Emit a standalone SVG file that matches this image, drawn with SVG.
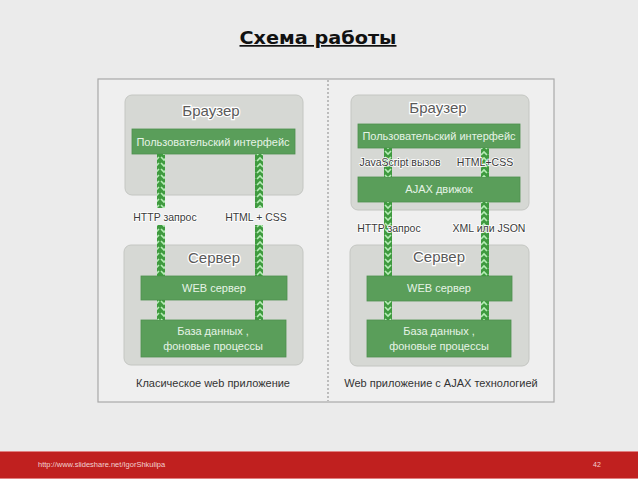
<svg xmlns="http://www.w3.org/2000/svg" width="638" height="479" viewBox="0 0 638 479">
<defs>
<style>
.t{font-family:"Liberation Sans",Arial,sans-serif;}
.gbox{fill:#d6d8d4;stroke:#c4c6c2;stroke-width:1;}
.green{fill:#5a9e5a;stroke:#4e8f4e;stroke-width:0.8;}
.gt{font-family:"Liberation Sans",Arial,sans-serif;font-size:11px;fill:#e6f3e6;text-anchor:middle;}
.hd{font-family:"Liberation Sans",Arial,sans-serif;font-size:15px;fill:#5a5a5a;text-anchor:middle;stroke:#ffffff;stroke-width:2.5;paint-order:stroke;}
.lb{font-family:"Liberation Sans",Arial,sans-serif;font-size:10.5px;fill:#3a3a3a;text-anchor:middle;stroke:#ffffff;stroke-width:1.6;paint-order:stroke;}
.cap{font-family:"Liberation Sans",Arial,sans-serif;font-size:11px;fill:#333333;text-anchor:middle;}
</style>
<pattern id="down" width="8" height="6" patternUnits="userSpaceOnUse">
<rect width="8" height="6" fill="#3f9a3f"/>
<path d="M1,1 L4,4 L7,1" fill="none" stroke="#b5ecb5" stroke-width="1.6"/>
</pattern>
<pattern id="up" width="8" height="6" patternUnits="userSpaceOnUse">
<rect width="8" height="6" fill="#3f9a3f"/>
<path d="M1,5 L4,2 L7,5" fill="none" stroke="#b5ecb5" stroke-width="1.6"/>
</pattern>
</defs>
<rect width="638" height="479" fill="#ebebeb"/>
<g id="title">
<text x="318" y="44" font-family="'DejaVu Sans',Verdana,sans-serif" font-size="17" font-weight="bold" fill="#111" text-anchor="middle" text-decoration="underline" textLength="157" lengthAdjust="spacingAndGlyphs">Схема работы</text>
</g>
<g id="frame">
<rect x="98" y="79" width="456" height="323" fill="#efefef" stroke="#a8a8a8" stroke-width="1.2"/>
<line x1="328" y1="80" x2="328" y2="401" stroke="#9a9a9a" stroke-width="1.2" stroke-dasharray="2,2"/>
</g>
<!-- left panel -->
<g id="l-browser">
<rect class="gbox" x="125" y="95" width="178" height="100" rx="7"/>
<text class="hd" x="211" y="116">Браузер</text>
</g>
<g id="l-ui">
<rect class="green" x="132" y="129" width="163" height="25"/>
<text class="gt" x="213" y="146">Пользовательский интерфейс</text>
</g>
<g id="l-server">
<rect class="gbox" x="124" y="245" width="179" height="120" rx="7"/>
<text class="hd" x="214" y="263">Сервер</text>
</g>
<g id="l-web">
<rect class="green" x="141" y="276" width="146" height="24"/>
<text class="gt" x="214" y="292">WEB сервер</text>
</g>
<g id="l-db">
<rect class="green" x="141" y="320" width="145" height="37"/>
<text class="gt" x="213" y="335">База данных ,</text>
<text class="gt" x="213" y="350">фоновые процессы</text>
</g>
<text class="cap" x="213" y="387">Класическое web приложение</text>
<!-- right panel -->
<g id="r-browser">
<rect class="gbox" x="351" y="95" width="178" height="115" rx="7"/>
<text class="hd" x="438" y="113">Браузер</text>
</g>
<g id="r-ui">
<rect class="green" x="358" y="124" width="162" height="24"/>
<text class="gt" x="439" y="140">Пользовательский интерфейс</text>
</g>
<g id="r-ajax">
<rect class="green" x="358" y="177" width="162" height="25"/>
<text class="gt" x="439" y="193">AJAX движок</text>
</g>
<g id="r-server">
<rect class="gbox" x="350" y="245" width="179" height="121" rx="7"/>
<text class="hd" x="439" y="262">Сервер</text>
</g>
<g id="r-web">
<rect class="green" x="367" y="276" width="145" height="25"/>
<text class="gt" x="439" y="292">WEB сервер</text>
</g>
<g id="r-db">
<rect class="green" x="367" y="320" width="144" height="37"/>
<text class="gt" x="439" y="335">База данных ,</text>
<text class="gt" x="439" y="350">фоновые процессы</text>
</g>
<text class="cap" x="441" y="387">Web приложение с AJAX технологией</text>
<!-- connectors -->
<g id="connectors">
<rect x="157" y="154" width="8" height="54" fill="url(#down)"/>
<rect x="157" y="225" width="8" height="51" fill="url(#down)"/>
<rect x="157" y="300" width="8" height="20" fill="url(#down)"/>
<rect x="255" y="154" width="8" height="54" fill="url(#up)"/>
<rect x="255" y="225" width="8" height="51" fill="url(#up)"/>
<rect x="255" y="300" width="8" height="20" fill="url(#up)"/>
<rect x="384" y="148" width="8" height="29" fill="url(#down)"/>
<rect x="384" y="202" width="8" height="74" fill="url(#down)"/>
<rect x="384" y="301" width="8" height="19" fill="url(#down)"/>
<rect x="481" y="148" width="8" height="29" fill="url(#up)"/>
<rect x="481" y="202" width="8" height="74" fill="url(#up)"/>
<rect x="481" y="301" width="8" height="19" fill="url(#up)"/>
<text class="lb" x="165" y="221">HTTP запрос</text>
<text class="lb" x="256" y="221">HTML + CSS</text>
<text class="lb" x="400" y="166">JavaScript вызов</text>
<text class="lb" x="485" y="166">HTML+CSS</text>
<text class="lb" x="389" y="232">HTTP запрос</text>
<text class="lb" x="489" y="232">XML или JSON</text>
</g>
<g id="footer">
<rect x="0" y="451" width="638" height="28" fill="#c0201f"/>
<line x1="0" y1="451.5" x2="638" y2="451.5" stroke="#e08080" stroke-width="1"/>
<line x1="0" y1="478.5" x2="638" y2="478.5" stroke="#e08080" stroke-width="1"/>
<text class="t" x="38" y="467" font-size="7.5" fill="#f2d0d0">http://www.slideshare.net/IgorShkulipa</text>
<text class="t" x="597" y="467" font-size="7" fill="#f2d0d0" text-anchor="middle">42</text>
</g>
</svg>
